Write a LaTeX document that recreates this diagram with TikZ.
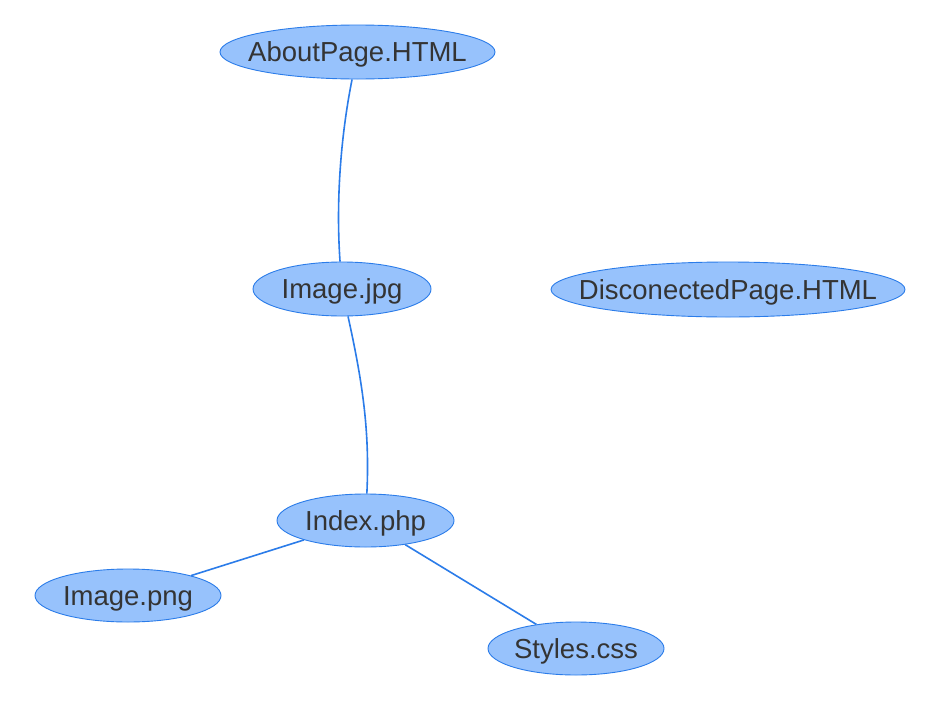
\documentclass[tikz,border=0pt]{standalone}
\usepackage{fontspec}
\setmainfont{Liberation Sans}
\usetikzlibrary{shapes.geometric}
\definecolor{nfill}{HTML}{97C2FC}
\definecolor{nline}{HTML}{2B7CE9}
\definecolor{ntext}{HTML}{343434}
\newcommand{\zw}[1]{\makebox[0pt]{#1}}
\begin{document}
\begin{tikzpicture}[x=1pt,y=-1pt,
  gnode/.style={ellipse,draw=nline,fill=nfill,line width=0.9pt,inner sep=0pt,
    text height=19.7pt,text depth=0pt,
    text=ntext,font=\fontsize{27.5}{33}\selectfont},
  gedge/.style={draw=nline,line width=1.6pt}]
\useasboundingbox (0,0) rectangle (942,707);
\fill[white] (0,0) rectangle (942,707);
\node[gnode,minimum width=275pt,minimum height=54pt] (about) at (357.5,52) {\zw{AboutPage.HTML}};
\node[gnode,minimum width=178pt,minimum height=54pt] (jpg) at (342,289) {\zw{Image.jpg}};
\node[gnode,minimum width=354pt,minimum height=55pt] (disc) at (728,289.5) {\zw{DisconectedPage.HTML}};
\node[gnode,minimum width=177pt,minimum height=53pt] (index) at (365.5,520.5) {\zw{Index.php}};
\node[gnode,minimum width=186pt,minimum height=53pt] (png) at (128,595.5) {\zw{Image.png}};
\node[gnode,minimum width=176pt,minimum height=53pt] (css) at (576,648.5) {\zw{Styles.css}};
\draw[gedge] (about) .. controls (340,140) and (336,205) .. (jpg);
\draw[gedge] (jpg) .. controls (362,380) and (370,430) .. (index);
\draw[gedge] (index) -- (png);
\draw[gedge] (index) -- (css);
\end{tikzpicture}
\end{document}
